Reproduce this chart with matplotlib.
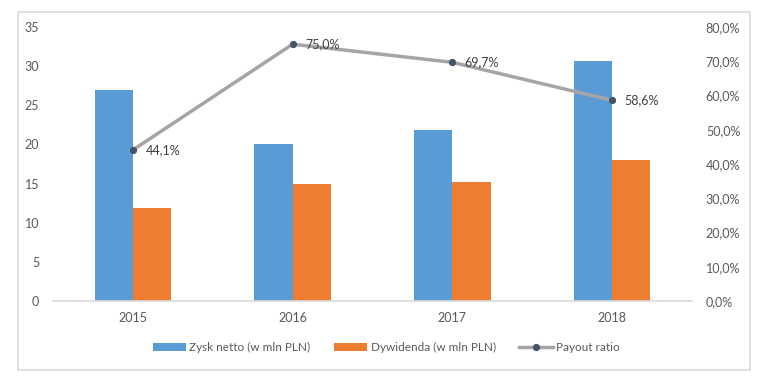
import numpy as np
import matplotlib.pyplot as plt
from matplotlib.patches import Rectangle
from matplotlib.ticker import FuncFormatter

plt.rcParams['font.family'] = ['Lato', 'DejaVu Sans']

# dane
years = ["2015", "2016", "2017", "2018"]
zysk_netto = [26.9, 20.0, 21.8, 30.7]
dywidenda = [11.9, 15.0, 15.2, 18.0]
payout = [44.1, 75.0, 69.7, 58.6]

blue = "#5B9BD5"
orange = "#ED7D31"
grey_line = "#A5A5A5"
txt = "#595959"

fig = plt.figure(figsize=(7.68, 3.81), dpi=100)
ax = fig.add_axes([0.069, 0.21, 0.832, 0.719])

x = np.arange(len(years))
w = 0.24
ax.bar(x - w / 2, zysk_netto, w, color=blue, label="Zysk netto (w mln PLN)")
ax.bar(x + w / 2, dywidenda, w, color=orange, label="Dywidenda (w mln PLN)")
ax.set_xlim(-0.5, 3.5)
ax.set_ylim(0, 35)
ax.set_yticks(range(0, 36, 5))
ax.set_xticks(x)
ax.set_xticklabels(years)

ax2 = ax.twinx()
ax2.plot(x, payout, color=grey_line, lw=2.5, marker="o", ms=4.2,
         mfc="#44546A", mec="#44546A", label="Payout ratio", zorder=3)
ax2.set_ylim(0, 80)
ax2.set_yticks(range(0, 81, 10))
ax2.yaxis.set_major_formatter(FuncFormatter(lambda v, p: f"{v:.1f}%".replace(".", ",")))

for xi, p in zip(x, payout):
    ax2.annotate(f"{p:.1f}%".replace(".", ","), (xi, p), xytext=(9, 0),
                 textcoords="offset points", va="center", ha="left",
                 fontsize=9, color="#404040")

for a in (ax, ax2):
    for s in a.spines.values():
        s.set_visible(False)
    a.tick_params(length=0, colors=txt, labelsize=9)
ax.spines["bottom"].set_visible(True)
ax.spines["bottom"].set_color("#D9D9D9")
ax.spines["bottom"].set_linewidth(1.2)
ax.tick_params(axis="y", pad=10)
ax.tick_params(axis="x", pad=8)
ax2.tick_params(axis="y", pad=10)

h1, l1 = ax.get_legend_handles_labels()
h2, l2 = ax2.get_legend_handles_labels()
fig.legend(h1 + h2, l1 + l2, loc="center", bbox_to_anchor=(0.503, 0.088), ncol=3,
           frameon=False, fontsize=8.5, labelcolor=txt, handlelength=2.8,
           handleheight=0.7, handletextpad=0.3, columnspacing=2.0)

fig.patches.append(Rectangle((0.024, 0.029), 0.952, 0.94, transform=fig.transFigure,
                             fill=False, edgecolor="#D9D9D9", lw=1.2))

fig.savefig("out.png", dpi=100)
